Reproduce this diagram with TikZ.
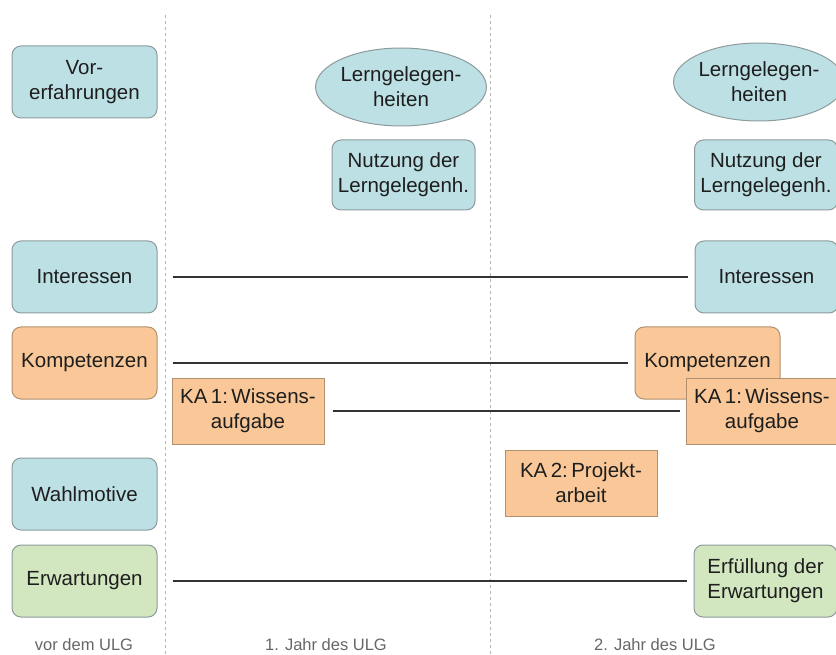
\documentclass[tikz,border=0pt]{standalone}
\usepackage{fontspec}
\setmainfont{Liberation Sans}
\definecolor{lblau}{HTML}{BDE0E4}
\definecolor{lorange}{HTML}{FAC898}
\definecolor{lgruen}{HTML}{D2E6C0}
\definecolor{rand}{HTML}{8C9A9C}
\definecolor{orand}{HTML}{B0906E}
\definecolor{schrift}{HTML}{1E1E1E}
\tikzset{
  box/.style={draw=rand, line width=1pt, rounded corners=9pt, minimum width=145pt,
    minimum height=72pt, align=center, text=schrift, font=\fontsize{20.5}{25}\selectfont},
  blaubox/.style={box, fill=lblau},
  orangebox/.style={box, fill=lorange, draw=orand},
  gruenbox/.style={box, fill=lgruen},
  aufgabe/.style={box, fill=lorange, draw=orand, rounded corners=0pt,
    minimum width=152pt, minimum height=66pt},
  wolke/.style={draw=rand, line width=1pt, fill=lblau, ellipse, minimum width=168pt,
    minimum height=78pt, inner sep=0pt, align=center, text=schrift,
    font=\fontsize{20.5}{25}\selectfont},
  verlauf/.style={draw=black!80, line width=2.2pt},
  jahr/.style={text=gray!80!black, font=\fontsize{16.5}{19}\selectfont}
}
\usetikzlibrary{shapes.geometric}
\begin{document}
\begin{tikzpicture}[x=1pt, y=-1pt]
\useasboundingbox (0,0) rectangle (836,655);

% Zeitabschnitte
\foreach \x in {165,490}
{
  \draw [gray!60, dashed, line width=1pt, dash pattern=on 3pt off 3pt](\x, 15)--(\x, 655);
}

% vor dem ULG
\node[blaubox] (vor) at (84.5, 82) {Vor-\\erfahrungen};
\node[blaubox] (int1) at (84.5, 277) {Interessen};
\node[orangebox] (komp1) at (84.5, 363) {Kompetenzen};
\node[blaubox] (wahl) at (84.5, 494) {Wahlmotive};
\node[gruenbox] (erw) at (84.5, 581) {Erwartungen};

% 1. Jahr
\node[wolke] (lg1) at (401, 87) {Lerngelegen-\\heiten};
\node[blaubox, minimum width=143pt, minimum height=70pt] (nutz1) at (403.5, 175) {Nutzung der\\Lerngelegenh.};
\node[aufgabe] (ka1a) at (248, 411) {KA\,1:\,Wissens-\\aufgabe};

% 2. Jahr
\node[aufgabe] (ka2) at (581, 483) {KA\,2:\,Projekt-\\arbeit};
\node[wolke, minimum width=162pt] (lg2) at (759, 82) {Lerngelegen-\\heiten};
\node[blaubox, minimum width=143pt, minimum height=70pt] (nutz2) at (766, 175) {Nutzung der\\Lerngelegenh.};
\node[blaubox, minimum width=143pt] (int2) at (766.5, 277) {Interessen};
\node[orangebox] (komp2) at (707.5, 363) {Kompetenzen};
\node[aufgabe] (ka1b) at (762, 411) {KA\,1:\,Wissens-\\aufgabe};
\node[gruenbox, minimum width=143pt] (erf) at (765.5, 581) {Erfüllung der\\Erwartungen};

% Verbindungen
\draw [verlauf, shorten <=15pt, shorten >=7pt](int1)--(int2);
\draw [verlauf, shorten <=15pt, shorten >=7pt](komp1)--(komp2);
\draw [verlauf, shorten <=8pt, shorten >=6pt](ka1a)--(ka1b);
\draw [verlauf, shorten <=15pt, shorten >=7pt](erw)--(erf);

% Beschriftung
\node[jahr] (t0) at (84, 645) {vor dem ULG};
\node[jahr] (t1) at (326, 645) {1. Jahr des ULG};
\node[jahr] (t2) at (655, 645) {2. Jahr des ULG};

\end{tikzpicture}
\end{document}
